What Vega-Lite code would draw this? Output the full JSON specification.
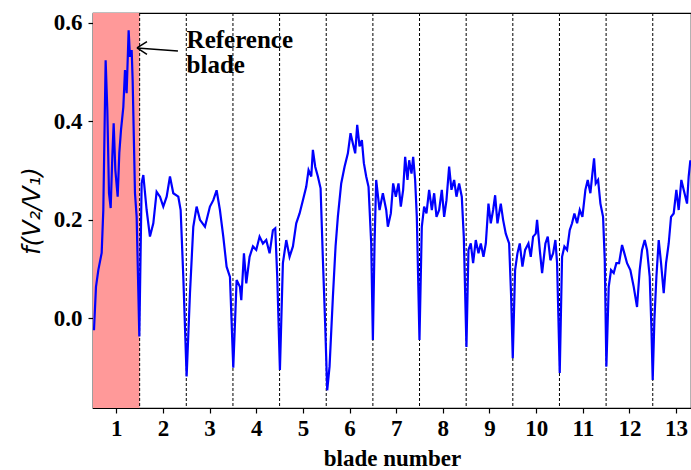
{
  "$schema": "https://vega.github.io/schema/vega-lite/v6.json",
  "width": 598,
  "height": 395,
  "autosize": "none",
  "padding": {"left": 93, "top": 13, "right": 0, "bottom": 62},
  "background": "white",
  "config": {
    "view": {"stroke": "black", "strokeWidth": 1.2},
    "font": "Liberation Serif",
    "axis": {
      "grid": false,
      "domainColor": "black",
      "domainWidth": 1.2,
      "tickColor": "black",
      "tickWidth": 1.2,
      "tickSize": 5,
      "labelFont": "Liberation Serif",
      "labelFontWeight": "bold",
      "labelFontSize": 23,
      "labelColor": "black",
      "titleColor": "black"
    }
  },
  "datasets": {
    "signal": [
      {"x":0.521,"y":-0.024},{"x":0.564,"y":0.064},{"x":0.614,"y":0.098},{"x":0.686,"y":0.133},{"x":0.721,"y":0.22},{"x":0.771,"y":0.524},{"x":0.807,"y":0.423},{"x":0.843,"y":0.254},{"x":0.879,"y":0.224},{"x":0.914,"y":0.328},{"x":0.943,"y":0.396},{"x":0.979,"y":0.301},{"x":1.029,"y":0.247},{"x":1.064,"y":0.336},{"x":1.1,"y":0.382},{"x":1.15,"y":0.429},{"x":1.186,"y":0.504},{"x":1.221,"y":0.457},{"x":1.264,"y":0.585},{"x":1.293,"y":0.531},{"x":1.329,"y":0.545},{"x":1.35,"y":0.484},{"x":1.4,"y":0.254},{"x":1.436,"y":0.206},{"x":1.493,"y":-0.037},{"x":1.543,"y":0.275},{"x":1.579,"y":0.291},{"x":1.65,"y":0.22},{"x":1.721,"y":0.166},{"x":1.793,"y":0.193},{"x":1.864,"y":0.257},{"x":1.936,"y":0.247},{"x":2.007,"y":0.227},{"x":2.079,"y":0.247},{"x":2.15,"y":0.288},{"x":2.221,"y":0.254},{"x":2.329,"y":0.247},{"x":2.379,"y":0.22},{"x":2.436,"y":0.084},{"x":2.507,"y":-0.118},{"x":2.579,"y":0.051},{"x":2.65,"y":0.186},{"x":2.721,"y":0.227},{"x":2.793,"y":0.2},{"x":2.9,"y":0.186},{"x":3.007,"y":0.227},{"x":3.079,"y":0.24},{"x":3.15,"y":0.26},{"x":3.221,"y":0.22},{"x":3.293,"y":0.166},{"x":3.364,"y":0.105},{"x":3.436,"y":0.084},{"x":3.507,"y":-0.1},{"x":3.579,"y":0.078},{"x":3.65,"y":0.064},
      {"x":3.679,"y":0.037},{"x":3.736,"y":0.132},{"x":3.786,"y":0.071},{"x":3.857,"y":0.125},{"x":3.929,"y":0.146},{"x":4.0,"y":0.139},{"x":4.071,"y":0.166},{"x":4.143,"y":0.152},{"x":4.214,"y":0.159},{"x":4.286,"y":0.132},{"x":4.357,"y":0.179},{"x":4.407,"y":0.183},{"x":4.45,"y":0.084},{"x":4.507,"y":-0.105},{"x":4.571,"y":0.112},{"x":4.643,"y":0.159},{"x":4.714,"y":0.125},{"x":4.786,"y":0.146},{"x":4.857,"y":0.193},{"x":4.929,"y":0.213},{"x":5.0,"y":0.24},{"x":5.071,"y":0.267},{"x":5.121,"y":0.301},{"x":5.179,"y":0.288},{"x":5.214,"y":0.342},{"x":5.264,"y":0.308},{"x":5.321,"y":0.288},{"x":5.379,"y":0.264},{"x":5.429,"y":0.118},{"x":5.479,"y":-0.017},{"x":5.521,"y":-0.146},{"x":5.571,"y":-0.098},{"x":5.643,"y":0.044},{"x":5.7,"y":0.146},{"x":5.75,"y":0.207},{"x":5.821,"y":0.274},{"x":5.893,"y":0.308},{"x":5.964,"y":0.335},{"x":6.021,"y":0.376},{"x":6.071,"y":0.355},{"x":6.121,"y":0.335},{"x":6.164,"y":0.393},{"x":6.214,"y":0.349},{"x":6.264,"y":0.362},{"x":6.307,"y":0.315},{"x":6.357,"y":0.288},{"x":6.407,"y":0.267},{"x":6.464,"y":0.152},{"x":6.5,"y":-0.044},{"x":6.536,"y":0.152},{"x":6.571,"y":0.281},{"x":6.643,"y":0.22},{"x":6.714,"y":0.254},{"x":6.786,"y":0.22},{"x":6.821,"y":0.186},
      {"x":6.885,"y":0.213},{"x":6.935,"y":0.274},{"x":6.992,"y":0.247},{"x":7.049,"y":0.274},{"x":7.099,"y":0.227},{"x":7.149,"y":0.261},{"x":7.192,"y":0.328},{"x":7.242,"y":0.281},{"x":7.278,"y":0.321},{"x":7.328,"y":0.294},{"x":7.364,"y":0.328},{"x":7.406,"y":0.281},{"x":7.442,"y":0.206},{"x":7.499,"y":-0.044},{"x":7.549,"y":0.186},{"x":7.599,"y":0.227},{"x":7.649,"y":0.213},{"x":7.706,"y":0.261},{"x":7.764,"y":0.22},{"x":7.814,"y":0.254},{"x":7.864,"y":0.206},{"x":7.921,"y":0.22},{"x":7.978,"y":0.261},{"x":8.028,"y":0.206},{"x":8.078,"y":0.24},{"x":8.135,"y":0.308},{"x":8.185,"y":0.261},{"x":8.242,"y":0.281},{"x":8.292,"y":0.247},{"x":8.349,"y":0.274},{"x":8.406,"y":0.247},{"x":8.449,"y":0.166},{"x":8.506,"y":-0.058},{"x":8.549,"y":0.139},{"x":8.599,"y":0.152},{"x":8.649,"y":0.112},{"x":8.706,"y":0.159},{"x":8.764,"y":0.132},{"x":8.814,"y":0.152},{"x":8.871,"y":0.125},{"x":8.921,"y":0.152},{"x":8.978,"y":0.233},{"x":9.028,"y":0.193},{"x":9.078,"y":0.22},{"x":9.121,"y":0.25},{"x":9.171,"y":0.193},{"x":9.242,"y":0.233},{"x":9.292,"y":0.2},{"x":9.349,"y":0.172},{"x":9.421,"y":0.152},{"x":9.464,"y":0.044},{"x":9.499,"y":-0.081},{"x":9.549,"y":0.098},{"x":9.599,"y":0.132},{"x":9.649,"y":0.152},{"x":9.706,"y":0.105},{"x":9.764,"y":0.139},{"x":9.835,"y":0.152},{"x":9.885,"y":0.125},{"x":9.935,"y":0.166},{"x":9.992,"y":0.172},
      {"x":10.02,"y":0.2},{"x":10.078,"y":0.139},{"x":10.128,"y":0.092},{"x":10.199,"y":0.152},{"x":10.249,"y":0.166},{"x":10.306,"y":0.118},{"x":10.363,"y":0.132},{"x":10.413,"y":0.159},{"x":10.449,"y":0.112},{"x":10.506,"y":-0.111},{"x":10.556,"y":0.125},{"x":10.606,"y":0.146},{"x":10.663,"y":0.139},{"x":10.72,"y":0.179},{"x":10.77,"y":0.193},{"x":10.82,"y":0.213},{"x":10.878,"y":0.193},{"x":10.935,"y":0.22},{"x":10.992,"y":0.206},{"x":11.056,"y":0.261},{"x":11.106,"y":0.281},{"x":11.163,"y":0.254},{"x":11.206,"y":0.294},{"x":11.242,"y":0.325},{"x":11.278,"y":0.274},{"x":11.328,"y":0.281},{"x":11.378,"y":0.233},{"x":11.435,"y":0.206},{"x":11.471,"y":0.118},{"x":11.506,"y":-0.098},{"x":11.556,"y":0.064},{"x":11.606,"y":0.098},{"x":11.663,"y":0.092},{"x":11.72,"y":0.112},{"x":11.778,"y":0.112},{"x":11.842,"y":0.149},{"x":11.892,"y":0.132},{"x":11.949,"y":0.112},{"x":12.02,"y":0.098},{"x":12.092,"y":0.064},{"x":12.163,"y":0.023},{"x":12.22,"y":0.098},{"x":12.27,"y":0.139},{"x":12.328,"y":0.159},{"x":12.378,"y":0.139},{"x":12.435,"y":0.084},{"x":12.471,"y":-0.018},{"x":12.499,"y":-0.125},{"x":12.535,"y":-0.004},{"x":12.578,"y":0.084},{"x":12.628,"y":0.159},{"x":12.678,"y":0.112},{"x":12.735,"y":0.051},{"x":12.785,"y":0.112},{"x":12.842,"y":0.152},{"x":12.892,"y":0.206},{"x":12.949,"y":0.213},{"x":13.006,"y":0.261},{"x":13.056,"y":0.22},{"x":13.113,"y":0.281},{"x":13.163,"y":0.261},{"x":13.235,"y":0.233},{"x":13.27,"y":0.288},{"x":13.306,"y":0.321}
    ],
    "ref": [{"x": 0.5, "xe": 1.5}],
    "bounds": [{"x":1.5},{"x":2.5},{"x":3.5},{"x":4.5},{"x":5.5},{"x":6.5},{"x":7.5},{"x":8.5},{"x":9.5},{"x":10.5},{"x":11.5},{"x":12.5}],
    "arrow": [
      {"x": 2.321, "y": 0.543, "xe": 1.443, "ye": 0.549},
      {"x": 1.443, "y": 0.549, "xe": 1.657, "ye": 0.562},
      {"x": 1.443, "y": 0.549, "xe": 1.657, "ye": 0.536}
    ],
    "label": [{"x": 2.507, "y": 0.549}]
  },
  "layer": [
    {
      "data": {"name": "ref"},
      "mark": {"type": "rect", "color": "#ff9999", "opacity": 1},
      "encoding": {
        "x": {"field": "x", "type": "quantitative", "title": "blade number"},
        "x2": {"field": "xe"}
      }
    },
    {
      "data": {"name": "bounds"},
      "mark": {"type": "rule", "color": "black", "strokeWidth": 1, "strokeDash": [3, 2]},
      "encoding": {
        "x": {"field": "x", "type": "quantitative", "title": "blade number"}
      }
    },
    {
      "data": {"name": "signal"},
      "mark": {"type": "line", "color": "#0000ff", "strokeWidth": 2.2},
      "encoding": {
        "x": {
          "field": "x",
          "type": "quantitative",
          "title": "blade number",
          "scale": {"domain": [0.5, 13.32], "nice": false, "zero": false},
          "axis": {
            "titleFont": "Liberation Serif",
            "titleFontWeight": "bold",
            "titleFontSize": 23,
            "titlePadding": 7,
            "values": [1,2,3,4,5,6,7,8,9,10,11,12,13],
            "format": "d",
            "labelPadding": 4
          }
        },
        "y": {
          "field": "y",
          "type": "quantitative",
          "title": "f(V₂/V₁)",
          "scale": {"domain": [-0.182, 0.62], "nice": false, "zero": false},
          "axis": {
            "titleFont": "DejaVu Sans",
            "titleFontStyle": "italic",
            "titleFontWeight": "normal",
            "titleFontSize": 24,
            "titlePadding": 9,
            "values": [0, 0.2, 0.4, 0.6],
            "format": ".1f",
            "labelPadding": 6
          }
        }
      }
    },
    {
      "data": {"name": "arrow"},
      "mark": {"type": "rule", "color": "black", "strokeWidth": 1.5},
      "encoding": {
        "x": {"field": "x", "type": "quantitative", "title": "blade number"},
        "x2": {"field": "xe"},
        "y": {"field": "y", "type": "quantitative", "title": "f(V₂/V₁)"},
        "y2": {"field": "ye"}
      }
    },
    {
      "data": {"name": "label"},
      "mark": {
        "type": "text",
        "align": "left",
        "baseline": "alphabetic",
        "font": "Liberation Serif",
        "fontWeight": "bold",
        "fontSize": 25,
        "lineHeight": 25,
        "color": "black",
        "text": ["Reference", "blade"]
      },
      "encoding": {
        "x": {"field": "x", "type": "quantitative", "title": "blade number"},
        "y": {"field": "y", "type": "quantitative", "title": "f(V₂/V₁)"}
      }
    }
  ]
}
